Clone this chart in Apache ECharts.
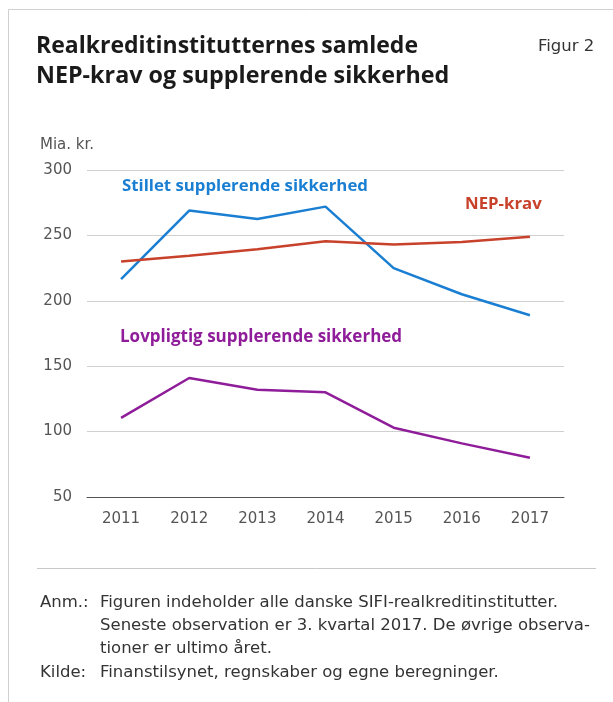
<!DOCTYPE html>
<html><head><meta charset="utf-8">
<script src="https://cdn.jsdelivr.net/npm/echarts@6/dist/echarts.min.js"></script>
<style>html,body{margin:0;padding:0;background:#fff}#c{width:613px;height:702px}</style>
</head><body><div id="c"></div>
<script>
const categories = ['2011','2012','2013','2014','2015','2016','2017'];
const stillet = [216.5, 269, 262.5, 272, 225, 205, 189];
const nepKrav = [230, 234.5, 239.5, 245.5, 243, 245, 249];
const lovpligtig = [110.5, 141, 132, 130, 103, 91, 80];
const yTicks = [50, 100, 150, 200, 250, 300];

const F = '"Open Sans", "Noto Sans", sans-serif';
const R = '"DejaVu Sans", sans-serif';
const chart = echarts.init(document.getElementById('c'));
chart.setOption({
  animation: false,
  textStyle: {fontFamily: R},
  grid: {left: 87, right: 49, top: 170, bottom: 205},
  xAxis: {
    type: 'category', data: categories, boundaryGap: true,
    axisLine: {lineStyle: {color: '#555', width: 1}},
    axisTick: {inside: true, length: 5, lineStyle: {color: '#555'}},
    axisLabel: {color: '#555', fontSize: 15, margin: 15, fontFamily: R}
  },
  yAxis: {
    type: 'value', min: yTicks[0], max: yTicks[yTicks.length-1], interval: 50,
    axisLine: {show: false}, axisTick: {show: false},
    axisLabel: {color: '#555', fontSize: 15, margin: 15, fontFamily: R},
    splitLine: {lineStyle: {color: '#d0d0d0', width: 1}}
  },
  series: [
    {name: 'Stillet supplerende sikkerhed', type: 'line', data: stillet, symbol: 'none',
     lineStyle: {color: '#1a7fd2', width: 2.5}},
    {name: 'NEP-krav', type: 'line', data: nepKrav, symbol: 'none',
     lineStyle: {color: '#c8412a', width: 2.5}},
    {name: 'Lovpligtig supplerende sikkerhed', type: 'line', data: lovpligtig, symbol: 'none',
     lineStyle: {color: '#8f1d9a', width: 2.5}}
  ],
  graphic: [
    {type: 'line', shape: {x1: 8.5, y1: 9.5, x2: 613, y2: 9.5}, style: {stroke: '#d0d0d0', lineWidth: 1}},
    {type: 'line', shape: {x1: 8.5, y1: 9.5, x2: 8.5, y2: 702}, style: {stroke: '#d0d0d0', lineWidth: 1}},
    {type: 'text', left: 36, top: 35, style: {text: 'Realkreditinstitutternes samlede', font: 'bold 23px ' + F, fill: '#1a1a1a'}},
    {type: 'text', left: 36, top: 65, style: {text: 'NEP-krav og supplerende sikkerhed', font: 'bold 23.3px ' + F, fill: '#1a1a1a'}},
    {type: 'text', left: 538, top: 38, style: {text: 'Figur 2', font: '16.5px ' + R, fill: '#333'}},
    {type: 'text', left: 40, top: 138, style: {text: 'Mia. kr.', font: '15px ' + R, fill: '#555'}},
    {type: 'text', left: 122, top: 178, style: {text: 'Stillet supplerende sikkerhed', font: 'bold 16.8px ' + F, fill: '#1a7fd2'}},
    {type: 'text', left: 465, top: 196, style: {text: 'NEP-krav', font: 'bold 16.8px ' + F, fill: '#c8412a'}},
    {type: 'text', left: 120, top: 329, style: {text: 'Lovpligtig supplerende sikkerhed', font: 'bold 17px ' + F, fill: '#8f1d9a'}},
    {type: 'line', shape: {x1: 37, y1: 568.5, x2: 596, y2: 568.5}, style: {stroke: '#c8c8c8', lineWidth: 1}},
    {type: 'text', left: 40, top: 594, style: {text: 'Anm.:', font: '16.5px ' + R, fill: '#333'}},
    {type: 'text', left: 100, top: 594, style: {text: 'Figuren indeholder alle danske SIFI-realkreditinstitutter.', font: '16.5px ' + R, fill: '#333'}},
    {type: 'text', left: 100, top: 617, style: {text: 'Seneste observation er 3. kvartal 2017. De øvrige observa-', font: '16.5px ' + R, fill: '#333'}},
    {type: 'text', left: 100, top: 640, style: {text: 'tioner er ultimo året.', font: '16.5px ' + R, fill: '#333'}},
    {type: 'text', left: 40, top: 664, style: {text: 'Kilde:', font: '16.5px ' + R, fill: '#333'}},
    {type: 'text', left: 100, top: 664, style: {text: 'Finanstilsynet, regnskaber og egne beregninger.', font: '16.5px ' + R, fill: '#333'}}
  ]
});
</script></body></html>
